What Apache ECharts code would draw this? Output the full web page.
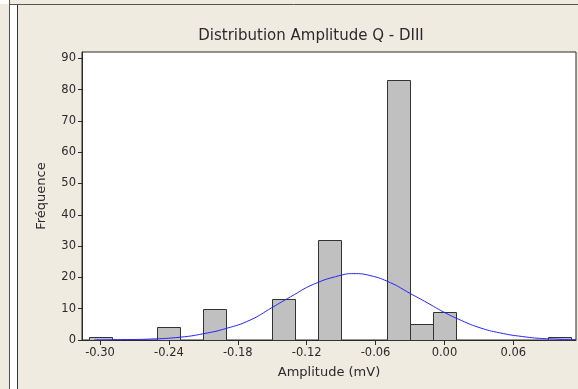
<!DOCTYPE html>
<html>
<head>
<meta charset="utf-8">
<title>Distribution Amplitude Q - DIII</title>
<script src="https://cdn.jsdelivr.net/npm/echarts@6/dist/echarts.min.js"></script>
<style>
  html, body { margin: 0; padding: 0; background: #EFEBE1; }
  #chart { width: 578px; height: 389px; }
</style>
</head>
<body>
<div id="chart"></div>
<script>
// Histogram bins (centre of each 0.02 mV bin) and counts
const binCenters = [-0.30, -0.28, -0.26, -0.24, -0.22, -0.20, -0.18, -0.16, -0.14, -0.12, -0.10,
                    -0.08, -0.06, -0.04, -0.02, 0.00, 0.02, 0.04, 0.06, 0.08, 0.10];
const binCounts  = [1, 0, 0, 4, 0, 10, 0, 0, 13, 0, 32,
                    0, 0, 83, 5, 9, 0, 0, 0, 0, 1];
const binWidth = 0.02;

// Fitted normal curve, sampled points [amplitude, frequency]
const curveX = [-0.305, -0.28, -0.256, -0.23, -0.21, -0.19, -0.169, -0.150, -0.134, -0.114, -0.091,
                -0.079, -0.065, -0.047, -0.030, -0.015, -0.001, 0.015, 0.031, 0.048, 0.068, 0.089, 0.1146];
const curveY = [0.05, 0.12, 0.3, 0.9, 2.0, 3.7, 6.4, 10.4, 13.8, 17.8, 20.6,
                21.2, 20.6, 18.3, 14.9, 11.9, 9.0, 6.2, 3.9, 2.3, 1.1, 0.4, 0.1];

// Axis tick values
const xTicks = [-0.30, -0.24, -0.18, -0.12, -0.06, 0.00, 0.06];
const yTicks = [0, 10, 20, 30, 40, 50, 60, 70, 80, 90];

const textColor = '#2b2b2b';
const lineColor = '#2a2a2a';
const fontFamily = 'DejaVu Sans, Verdana, sans-serif';

const chart = echarts.init(document.getElementById('chart'), null, { renderer: 'canvas' });

const barData = binCenters.map((c, i) => [c, binCounts[i]]).filter(d => d[1] > 0);
const curveData = curveX.map((x, i) => [x, curveY[i]]);

chart.setOption({
  animation: false,
  backgroundColor: '#EFEBE1',
  title: {
    text: 'Distribution Amplitude Q - DIII',
    left: 306,
    textAlign: 'center',
    top: 24,
    textStyle: { fontFamily, fontSize: 15, fontWeight: 'normal', color: textColor }
  },
  graphic: [
    { type: 'rect', shape: { x: 0, y: 0, width: 9, height: 4 }, style: { fill: '#ffffff' }, silent: true },
    { type: 'line', shape: { x1: 9, y1: 4.5, x2: 578, y2: 4.5 }, style: { stroke: '#555', lineWidth: 1 }, silent: true },
    { type: 'rect', shape: { x: 10, y: 5, width: 7, height: 384 }, style: { fill: '#ffffff' }, silent: true },
    { type: 'line', shape: { x1: 9.5, y1: 0, x2: 9.5, y2: 389 }, style: { stroke: '#555', lineWidth: 1 }, silent: true },
    { type: 'line', shape: { x1: 17.5, y1: 5, x2: 17.5, y2: 389 }, style: { stroke: '#333', lineWidth: 1 }, silent: true }
  ],
  grid: {
    left: 82, right: 2, top: 52, bottom: 49,
    show: true, backgroundColor: '#ffffff', borderColor: lineColor, borderWidth: 1
  },
  xAxis: {
    type: 'value',
    min: -0.3157, max: 0.1146,
    name: 'Amplitude (mV)',
    nameLocation: 'middle',
    nameGap: 26,
    nameTextStyle: { fontFamily, fontSize: 13, color: textColor },
    splitLine: { show: false },
    axisLine: { show: true, onZero: false, lineStyle: { color: lineColor, width: 1 } },
    axisTick: { show: true, length: 5, customValues: xTicks, lineStyle: { color: lineColor } },
    axisLabel: {
      customValues: xTicks,
      margin: 7,
      fontFamily, fontSize: 11.5, color: textColor,
      formatter: v => (Math.abs(v) < 1e-9 ? 0 : v).toFixed(2)
    }
  },
  yAxis: {
    type: 'value',
    min: 0, max: 92,
    name: 'Fréquence',
    nameLocation: 'middle',
    nameGap: 34,
    nameTextStyle: { fontFamily, fontSize: 13, color: textColor },
    splitLine: { show: false },
    axisLine: { show: true, onZero: false, lineStyle: { color: lineColor, width: 1 } },
    axisTick: { show: true, length: 4, customValues: yTicks, lineStyle: { color: lineColor } },
    axisLabel: {
      customValues: yTicks,
      margin: 6,
      fontFamily, fontSize: 11.5, color: textColor
    }
  },
  series: [
    {
      type: 'custom',
      name: 'Histogramme',
      data: barData,
      renderItem: (params, api) => {
        const c = api.value(0);
        const n = api.value(1);
        const p0 = api.coord([c - binWidth / 2, n]);
        const p1 = api.coord([c + binWidth / 2, 0]);
        return {
          type: 'rect',
          shape: { x: Math.round(p0[0]) + 0.5, y: Math.round(p0[1]) + 0.5,
                   width: Math.round(p1[0] - p0[0]), height: Math.round(p1[1] - p0[1]) },
          style: { fill: '#C0C0C0', stroke: '#333333', lineWidth: 1 }
        };
      },
      z: 2
    },
    {
      type: 'line',
      name: 'Normale',
      data: curveData,
      smooth: true,
      showSymbol: false,
      symbol: 'none',
      lineStyle: { color: '#2424ff', width: 1 },
      z: 3
    }
  ]
});
</script>
</body>
</html>
